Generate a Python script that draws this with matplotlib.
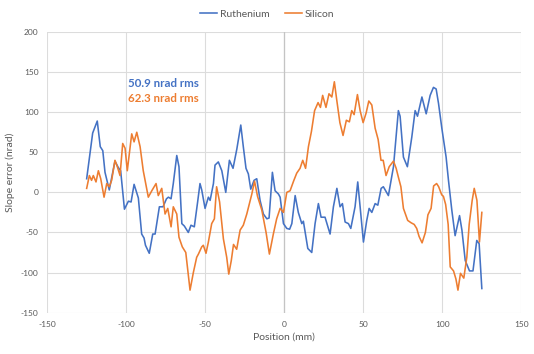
import numpy as np
import matplotlib.pyplot as plt

plt.rcParams['font.family'] = ['Lato', 'DejaVu Sans']
plt.rcParams['axes.unicode_minus'] = False

# Ruthenium (blue)
ru_x = [-124.9, -121.1, -118.2, -116.3, -114.7, -113.3, -110.6, -107.0, -104.9, -103.4,
        -101.0, -98.5, -96.8, -94.9, -92.2, -90.1, -88.6, -87.7, -85.3, -83.1,
        -81.6, -78.9, -76.6, -74.4, -73.2, -71.5, -70.1, -67.9, -66.5, -64.7,
        -63.1, -60.6, -58.9, -56.8, -54.7, -53.2, -52.1, -50.0, -47.9, -46.8,
        -44.7, -43.7, -41.6, -39.4, -36.9, -34.6, -32.3, -29.9, -27.4, -25.8,
        -24.1, -22.6, -21.1, -19.0, -17.3, -15.2, -13.1, -10.9, -9.5, -7.4,
        -5.7, -3.6, -2.5, -0.4, 1.7, 3.5, 4.9, 7.0, 9.0, 11.2,
        12.2, 15.0, 17.5, 19.6, 21.7, 23.4, 25.9, 29.1, 31.2, 33.4,
        35.4, 36.9, 38.6, 40.7, 42.2, 44.9, 46.6, 48.1, 50.2, 52.3,
        53.8, 55.5, 57.6, 59.3, 61.4, 62.8, 66.0, 69.2, 72.3, 73.4,
        75.5, 78.0, 80.8, 82.9, 84.4, 87.2, 89.9, 92.4, 94.5, 96.2,
        97.7, 99.8, 102.5, 104.0, 106.1, 108.2, 111.0, 112.5, 114.6, 117.3,
        119.5, 121.9, 123.4, 125.1]
ru_y = [17, 74, 89, 57, 52, 25, 3, 39, 31, 27,
        -21, -11, -12, 10, -7, -52, -57, -66, -76, -52,
        -52, -18, -18, -8, -6, -8, 11, 46, 32, -39,
        -42, -50, -41, -43, -12, 11, 3, -20, -6, -10,
        11, 34, 38, 27, 0, 40, 30, 54, 84, 57,
        30, 23, 4, 15, 17, -10, -27, -33, -32, 25,
        2, -2, -6, -39, -45, -46, -39, -4, -25, -39,
        -36, -70, -75, -39, -14, -31, -31, -52, -18, 5,
        -18, -14, -37, -39, -45, -18, 13, -18, -62, -35,
        -20, -25, -14, -16, 5, 7, -4, 32, 102, 95,
        44, 32, 69, 102, 95, 119, 98, 121, 131, 129,
        111, 80, 44, 15, -22, -54, -29, -47, -85, -98,
        -98, -60, -64, -120]

# Silicon (orange)
si_x = [-124.9, -123.2, -121.8, -120.7, -119.0, -117.5, -116.0, -113.9, -112.2, -110.6,
        -109.1, -107.0, -105.5, -103.8, -102.1, -100.6, -99.2, -96.4, -94.9, -93.2,
        -91.1, -89.1, -85.9, -83.7, -81.0, -79.6, -77.4, -75.3, -73.6, -71.5,
        -70.1, -67.9, -66.5, -64.4, -62.2, -59.5, -57.4, -55.3, -54.2, -52.1,
        -51.1, -49.4, -47.9, -45.8, -44.1, -42.7, -40.8, -38.4, -36.3, -35.0,
        -33.4, -32.0, -30.0, -27.8, -25.8, -23.6, -21.7, -20.4, -18.7, -16.8,
        -14.1, -11.4, -9.3, -6.8, -4.7, -2.5, -0.4, 1.7, 3.8, 6.0,
        8.0, 10.1, 11.8, 13.6, 15.4, 17.3, 19.3, 21.5, 23.0, 24.4,
        26.5, 28.4, 30.2, 31.8, 33.4, 35.3, 37.3, 39.4, 41.3, 42.8,
        44.3, 46.4, 48.1, 50.0, 51.9, 53.6, 55.5, 57.6, 59.5, 61.3,
        62.7, 64.5, 66.5, 69.2, 70.9, 72.3, 73.9, 75.5, 78.2, 80.4,
        82.3, 83.9, 85.4, 87.3, 89.4, 91.0, 93.0, 94.6, 96.5, 97.8,
        99.7, 100.8, 102.2, 103.8, 105.1, 107.2, 108.7, 110.0, 111.6, 113.7,
        115.6, 117.1, 119.0, 120.3, 122.0, 123.6, 125.1]
si_y = [5, 21, 15, 21, 13, 27, 17, -6, 11, 7,
        15, 40, 32, 21, 61, 55, 27, 73, 63, 75,
        57, 27, -6, 2, 11, -4, 5, -27, -20, -43,
        -18, -27, -56, -68, -75, -122, -100, -81, -77, -68,
        -66, -76, -62, -39, -33, 7, -12, -58, -81, -102,
        -85, -65, -71, -47, -41, -27, -12, -2, 14, -5,
        -22, -50, -77, -52, -33, -20, -25, 0, 2, 14,
        24, 30, 40, 30, 57, 76, 102, 112, 106, 121,
        106, 123, 119, 138, 114, 87, 71, 90, 88, 102,
        97, 122, 102, 87, 99, 114, 109, 80, 66, 40,
        40, 21, 32, 39, 30, 19, 7, -20, -35, -38,
        -40, -45, -55, -63, -50, -28, -20, 8, 11, 7,
        -3, -5, -15, -40, -93, -98, -108, -122, -101, -107,
        -81, -40, -10, 5, -10, -62, -25]

x_ticks = [-150, -100, -50, 0, 50, 100, 150]
y_ticks = [-150, -100, -50, 0, 50, 100, 150, 200]

blue = '#4472C4'
orange = '#ED7D31'

fig = plt.figure(figsize=(5.34, 3.54), dpi=100)
ax = fig.add_axes([0.088, 0.117, 0.888, 0.7924])

ax.plot(ru_x, ru_y, color=blue, lw=1.15, label='Ruthenium', solid_joinstyle='round')
ax.plot(si_x, si_y, color=orange, lw=1.15, label='Silicon', solid_joinstyle='round')

ax.set_xlim(-150, 150)
ax.set_ylim(-150, 200)
ax.set_xticks(x_ticks)
ax.set_yticks(y_ticks)
ax.grid(True, color='#dcdcdc', lw=0.8)
ax.axvline(0, color='#c4c4c4', lw=0.9, zorder=1)
ax.set_axisbelow(True)
for s in ax.spines.values():
    s.set_visible(False)
ax.tick_params(length=0, labelsize=6, labelcolor='#595959', pad=6)

ax.set_xlabel('Position (mm)', fontsize=7.5, color='#595959', labelpad=3)
ax.set_ylabel('Slope error (nrad)', fontsize=7.5, color='#595959', labelpad=4)

ax.text(-98.7, 136, '50.9 nrad rms', color=blue, fontsize=8.3, fontweight='bold', va='center')
ax.text(-98.7, 117, '62.3 nrad rms', color=orange, fontsize=8.3, fontweight='bold', va='center')

fig.legend(loc='center', bbox_to_anchor=(0.5, 0.96), ncol=2, frameon=False,
           fontsize=7.5, handlelength=1.6, handletextpad=0.3, columnspacing=1.5,
           labelcolor='#595959')

fig.savefig('out.png', dpi=100)
